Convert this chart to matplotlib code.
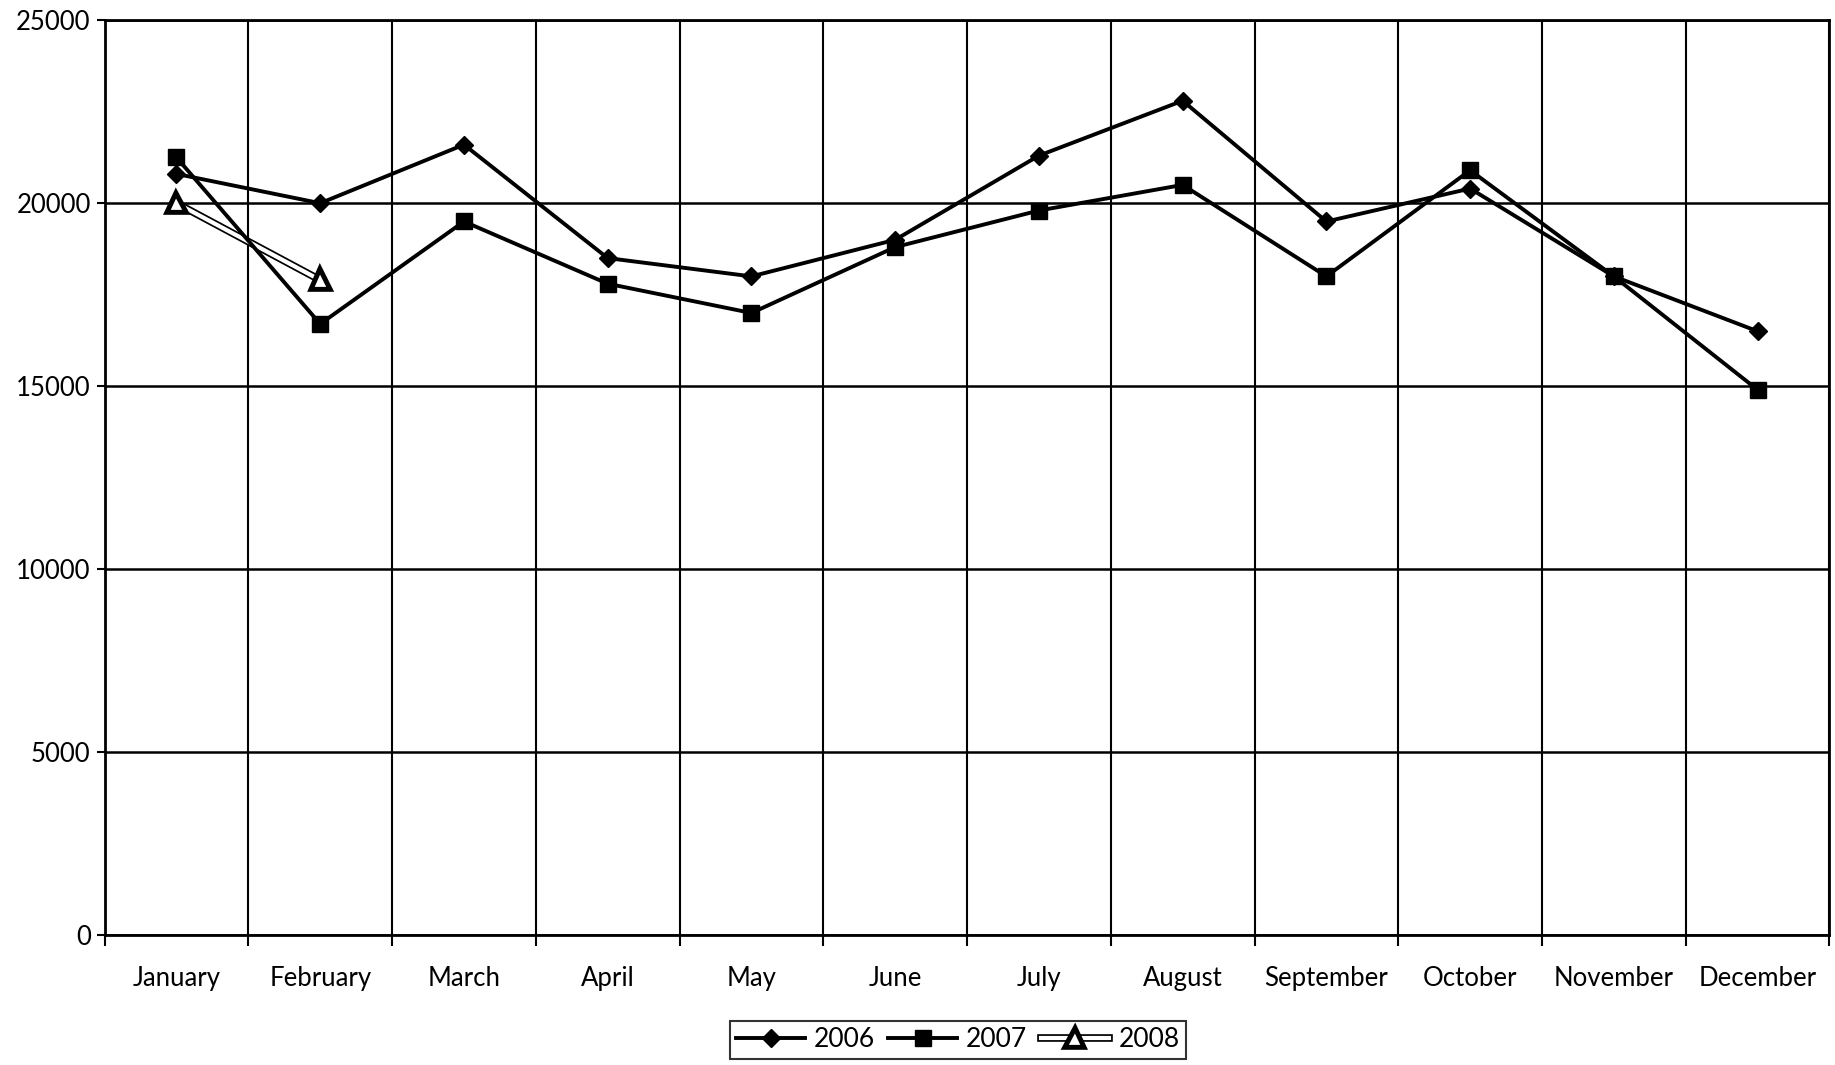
import matplotlib
matplotlib.use("Agg")
import matplotlib.pyplot as plt
import matplotlib.patheffects as pe
import numpy as np

months = ["January", "February", "March", "April", "May", "June",
          "July", "August", "September", "October", "November", "December"]
sales_2006 = [20800, 20000, 21600, 18500, 18000, 19000, 21300, 22800, 19500, 20400, 18000, 16500]
sales_2007 = [21250, 16700, 19500, 17800, 17000, 18800, 19800, 20500, 18000, 20900, 18000, 14900]
sales_2008 = [20000, 17900]

plt.rcParams['font.family'] = ['Lato', 'DejaVu Sans']

fig = plt.figure(figsize=(18.35, 10.65), dpi=100)
ax = fig.add_axes([0.057, 0.122, 0.940, 0.859])

x = np.arange(len(months))
ax.plot(x, sales_2006, color="black", lw=2.8, marker="D", ms=9, label="2006", zorder=4)
ax.plot(x, sales_2007, color="black", lw=2.8, marker="s", ms=12, label="2007", zorder=4)
ax.plot(x[:len(sales_2008)], sales_2008, color="white", lw=3, marker="^", ms=11,
        mfc="white", mec="black", mew=1.6, label="2008", zorder=3,
        path_effects=[pe.Stroke(linewidth=5.5, foreground="black"), pe.Normal()])

ax.set_xlim(-0.5, len(months) - 0.5)
ax.set_ylim(0, 25000)
ax.set_yticks(np.arange(0, 25001, 5000))
ax.set_xticks(x)
ax.set_xticklabels(months)
ax.set_xticks(np.arange(-0.5, len(months), 1), minor=True)
ax.tick_params(axis="x", which="major", length=0, pad=22, labelsize=18.5)
ax.tick_params(axis="x", which="minor", length=8, width=1.5, direction="out")
ax.tick_params(axis="y", length=6, width=1.5, labelsize=18.5, pad=4)
ax.grid(axis="y", which="major", color="black", lw=1.8)
ax.grid(axis="x", which="minor", color="black", lw=1.5)
for s in ax.spines.values():
    s.set_linewidth(2)

leg = fig.legend(loc="center", bbox_to_anchor=(0.522, 0.0235), ncol=3, fontsize=19,
                 frameon=True, fancybox=False, edgecolor="black",
                 handlelength=2.6, columnspacing=0.5, handletextpad=0.35,
                 borderpad=0.25)
leg.get_frame().set_linewidth(1.5)

fig.savefig("out.png", dpi=100)
